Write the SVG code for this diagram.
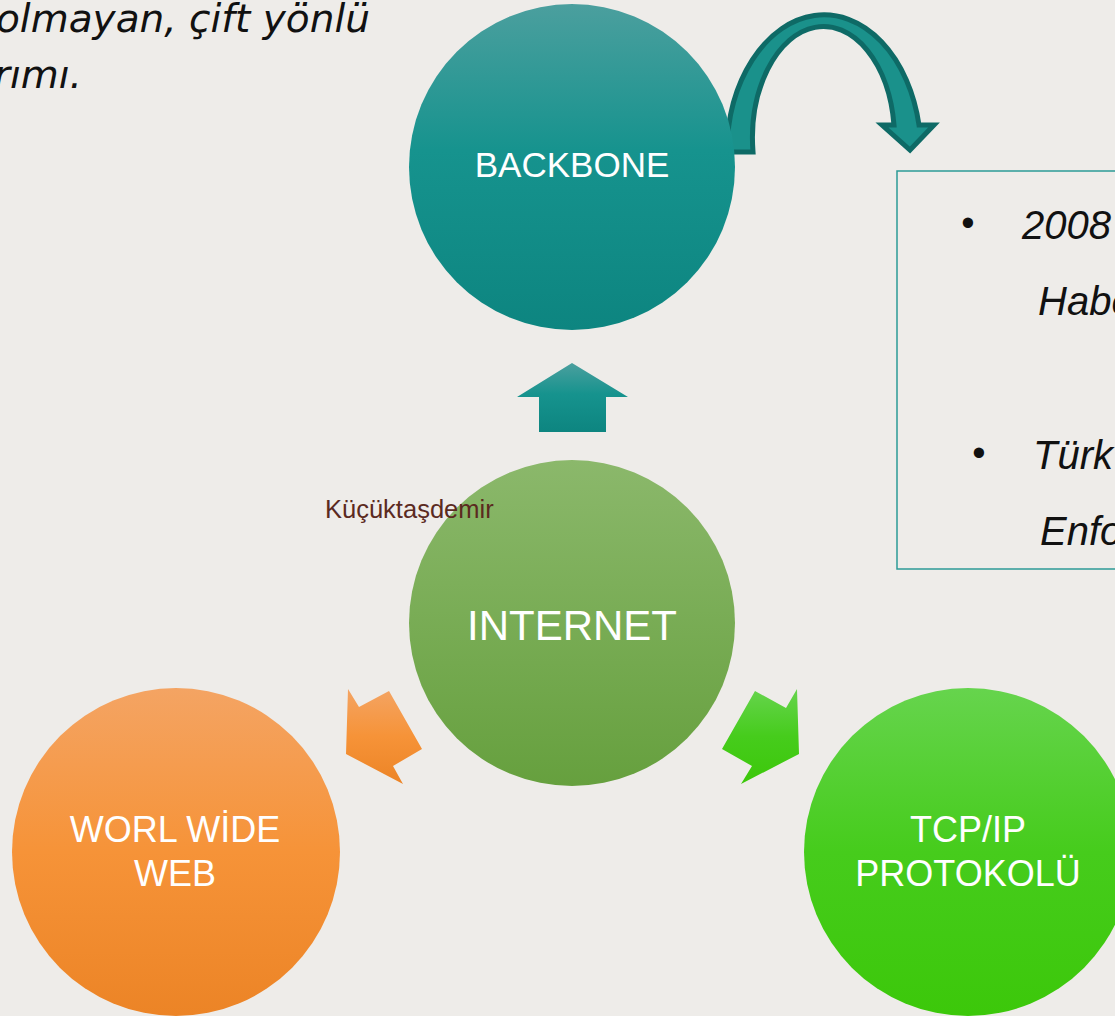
<svg xmlns="http://www.w3.org/2000/svg" width="1115" height="1016" viewBox="0 0 1115 1016">
<defs>
<linearGradient id="gTeal" x1="0" y1="0" x2="0" y2="1"><stop offset="0" stop-color="#4b9f9e"/><stop offset="0.45" stop-color="#16938e"/><stop offset="1" stop-color="#0d8580"/></linearGradient>
<linearGradient id="gInt" x1="0" y1="0" x2="0" y2="1"><stop offset="0" stop-color="#8bb86b"/><stop offset="1" stop-color="#66a03e"/></linearGradient>
<linearGradient id="gOr" x1="0" y1="0" x2="0" y2="1"><stop offset="0" stop-color="#f4a463"/><stop offset="0.5" stop-color="#f69338"/><stop offset="1" stop-color="#ec8426"/></linearGradient>
<linearGradient id="gGr" x1="0" y1="0" x2="0" y2="1"><stop offset="0" stop-color="#66d44d"/><stop offset="0.5" stop-color="#46cc1c"/><stop offset="1" stop-color="#3cc80a"/></linearGradient>
</defs>
<style>
.lbl{font-family:"Liberation Sans",Arial,sans-serif;fill:#ffffff;text-anchor:middle}
.it{font-family:"Liberation Sans",Arial,sans-serif;font-style:italic;fill:#111111;font-size:40px}
.top{font-family:"DejaVu Sans",sans-serif;font-style:italic;fill:#111111;font-size:39px;text-anchor:end}
.bul{font-family:"Liberation Sans",Arial,sans-serif;font-size:38px;fill:#111111;text-anchor:middle}
</style>
<rect width="1115" height="1016" fill="#eeece9"/>
<text class="top" x="370" y="32">olmayan, çift yönlü</text>
<text class="top" x="82" y="88">rımı.</text>

<g id="connectors">
<polygon points="572,363 628,397 606,397 606,432 539,432 539,397 517,397" fill="url(#gTeal)"/>
<polygon points="348,689 359,707 389,691 422,749 393,766 403,784 346,754" fill="url(#gOr)"/>
<polygon points="755,691 786,708 797,689 799,754 741,784 752,766 722,749" fill="url(#gGr)"/>
<path d="M727,152 A97,138 0 0 1 919,125 L934,125 L910,150 L882,125 L894,125 A71,112 0 0 0 753,152 Z" fill="#1a918b" stroke="#0e6a66" stroke-width="5" stroke-linejoin="miter"/>
</g>

<g id="backbone">
<circle cx="572" cy="167" r="163" fill="url(#gTeal)"/>
<text class="lbl" x="572" y="177" font-size="35">BACKBONE</text>
</g>
<g id="internet">
<circle cx="572" cy="623" r="163" fill="url(#gInt)"/>
<text class="lbl" x="572" y="640" font-size="42">INTERNET</text>
</g>
<g id="www">
<circle cx="176" cy="852" r="164" fill="url(#gOr)"/>
<text class="lbl" x="175" y="842" font-size="36">WORL WİDE</text>
<text class="lbl" x="175" y="886" font-size="36">WEB</text>
</g>
<g id="tcpip">
<circle cx="968" cy="852" r="164" fill="url(#gGr)"/>
<text class="lbl" x="968" y="842" font-size="36">TCP/IP</text>
<text class="lbl" x="968" y="886" font-size="36">PROTOKOLÜ</text>
</g>
<g id="label-author">
<text x="325" y="518" font-family="Liberation Sans, Arial, sans-serif" font-size="25.5" fill="#5b2a1f">Küçüktaşdemir</text>
</g>
<g id="infobox">
<rect x="897" y="171" width="240" height="398" fill="none" stroke="#2c9a96" stroke-width="1.5"/>
<text class="bul" x="968" y="236">•</text>
<text class="it" x="1022" y="239">2008</text>
<text class="it" x="1038" y="315">Habe</text>
<text class="bul" x="979" y="466">•</text>
<text class="it" x="1033" y="469">Türk</text>
<text class="it" x="1040" y="545">Enfo</text>
</g>
</svg>
